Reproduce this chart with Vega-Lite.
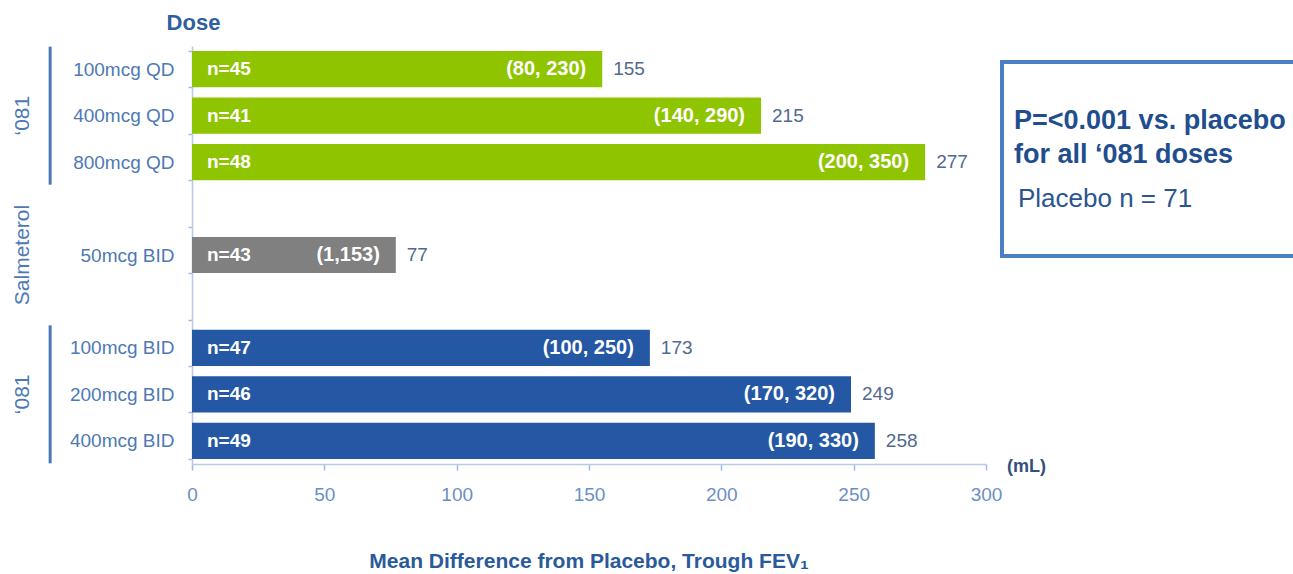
{
  "$schema": "https://vega.github.io/schema/vega-lite/v6.json",
  "width": 794,
  "height": 418,
  "autosize": {"type": "none"},
  "padding": {"left": 192, "top": 46, "right": 307, "bottom": 110},
  "background": "white",
  "title": {
    "text": "Mean Difference from Placebo, Trough FEV₁",
    "orient": "bottom",
    "anchor": "middle",
    "frame": "group",
    "offset": 47,
    "font": "Liberation Sans",
    "fontSize": 21,
    "fontWeight": "bold",
    "color": "#2a5a9a"
  },
  "datasets": {
    "doses": [
      {"dose": "100mcg QD", "group": "‘081 QD", "mean": 155, "n_label": "n=45", "ci": "(80, 230)"},
      {"dose": "400mcg QD", "group": "‘081 QD", "mean": 215, "n_label": "n=41", "ci": "(140, 290)"},
      {"dose": "800mcg QD", "group": "‘081 QD", "mean": 277, "n_label": "n=48", "ci": "(200, 350)"},
      {"dose": "50mcg BID", "group": "Salmeterol", "mean": 77, "n_label": "n=43", "ci": "(1,153)"},
      {"dose": "100mcg BID", "group": "‘081 BID", "mean": 173, "n_label": "n=47", "ci": "(100, 250)"},
      {"dose": "200mcg BID", "group": "‘081 BID", "mean": 249, "n_label": "n=46", "ci": "(170, 320)"},
      {"dose": "400mcg BID", "group": "‘081 BID", "mean": 258, "n_label": "n=49", "ci": "(190, 330)"}
    ],
    "groups": [
      {"dose": "400mcg QD", "label": "‘081"},
      {"dose": "50mcg BID", "label": "Salmeterol"},
      {"dose": "200mcg BID", "label": "‘081"}
    ],
    "placebo": [{"note": "Placebo n = 71"}]
  },
  "layer": [
    {
      "data": {"name": "doses"},
      "mark": {"type": "bar"},
      "encoding": {
        "y": {
          "field": "dose", "type": "nominal", "title": "Dose",
          "scale": {"domain": ["100mcg QD", "400mcg QD", "800mcg QD", " ", "50mcg BID", "  ", "100mcg BID", "200mcg BID", "400mcg BID"], "paddingInner": 0.22, "paddingOuter": 0.11},
          "axis": {
            "domainColor": "#b7cbe8", "domainWidth": 1.5, "tickColor": "#9fb9e0", "tickWidth": 1.5, "tickSize": 4, "tickBand": "extent",
            "labelFont": "Liberation Sans", "labelFontSize": 19, "labelColor": "#4d79b5", "labelPadding": 14,
            "titleAngle": 0, "titleX": 1, "titleY": -24, "titleAlign": "center", "titleBaseline": "middle",
            "titleFont": "Liberation Sans", "titleFontSize": 22, "titleFontWeight": "bold", "titleColor": "#2f5f9e"
          }
        },
        "x": {
          "field": "mean", "type": "quantitative", "title": "(mL)",
          "scale": {"domain": [0, 300], "nice": false},
          "axis": {
            "values": [0, 50, 100, 150, 200, 250, 300], "grid": false,
            "domainColor": "#b7cbe8", "domainWidth": 1.5, "tickColor": "#9fb9e0", "tickWidth": 1.5, "tickSize": 6,
            "labelFont": "Liberation Sans", "labelFontSize": 19, "labelColor": "#6b8fc4", "labelPadding": 15, "labelFlush": false,
            "titleX": 834, "titleY": 2, "titleAlign": "center", "titleBaseline": "middle",
            "titleFont": "Liberation Sans", "titleFontSize": 18, "titleFontWeight": "bold", "titleColor": "#33507a"
          }
        },
        "color": {
          "field": "group", "type": "nominal",
          "scale": {"domain": ["‘081 QD", "Salmeterol", "‘081 BID"], "range": ["#8fc400", "#808080", "#2458a4"]},
          "legend": null
        }
      }
    },
    {
      "data": {"name": "doses"},
      "mark": {"type": "text", "align": "left", "baseline": "middle", "dx": 15, "font": "Liberation Sans", "fontSize": 19, "fontWeight": "bold", "color": "white"},
      "encoding": {
        "y": {"field": "dose", "type": "nominal", "title": "Dose"},
        "x": {"datum": 0, "type": "quantitative"},
        "text": {"field": "n_label"}
      }
    },
    {
      "data": {"name": "doses"},
      "mark": {"type": "text", "align": "right", "baseline": "middle", "dx": -16, "font": "Liberation Sans", "fontSize": 20, "fontWeight": "bold", "color": "white"},
      "encoding": {
        "y": {"field": "dose", "type": "nominal", "title": "Dose"},
        "x": {"field": "mean", "type": "quantitative"},
        "text": {"field": "ci"}
      }
    },
    {
      "data": {"name": "doses"},
      "mark": {"type": "text", "align": "left", "baseline": "middle", "dx": 11, "font": "Liberation Sans", "fontSize": 19, "color": "#51698f"},
      "encoding": {
        "y": {"field": "dose", "type": "nominal", "title": "Dose"},
        "x": {"field": "mean", "type": "quantitative"},
        "text": {"field": "mean", "type": "quantitative"}
      }
    },
    {
      "data": {"name": "groups"},
      "mark": {"type": "text", "angle": 270, "align": "center", "baseline": "middle", "font": "Liberation Sans", "fontSize": 21, "color": "#4d79b5"},
      "encoding": {
        "y": {"field": "dose", "type": "nominal", "title": "Dose"},
        "x": {"datum": -64, "type": "quantitative"},
        "text": {"field": "label"}
      }
    },
    {
      "data": {"name": "groups"},
      "transform": [{"filter": "datum.label == '‘081'"}],
      "mark": {"type": "tick", "size": 138, "thickness": 3, "color": "#4a78b8", "opacity": 1},
      "encoding": {
        "y": {"field": "dose", "type": "nominal", "title": "Dose"},
        "x": {"datum": -53.6, "type": "quantitative"}
      }
    },
    {
      "data": {"name": "placebo"},
      "mark": {"type": "point", "opacity": 0},
      "encoding": {
        "shape": {
          "field": "note", "type": "nominal",
          "scale": {"domain": ["Placebo n = 71", " "]},
          "legend": {
            "orient": "none", "legendX": 810, "legendY": 16,
            "title": ["", "P=<0.001 vs. placebo", "for all ‘081 doses"],
            "titleFont": "Liberation Sans", "titleFontSize": 27, "titleFontWeight": "bold", "titleColor": "#1f4e8f",
            "titleLineHeight": 34, "titlePadding": 17, "titleLimit": 500,
            "labelFont": "Liberation Sans", "labelFontSize": 26, "labelColor": "#2a5591", "labelOffset": -22, "labelLimit": 500,
            "symbolOpacity": 0, "symbolSize": 1, "symbolStrokeWidth": 0,
            "rowPadding": 6, "padding": 12, "strokeColor": "#4a7fc6", "fillColor": "white"
          }
        }
      }
    }
  ],
  "config": {
    "view": {"stroke": null},
    "legend": {"strokeWidth": 4}
  }
}
